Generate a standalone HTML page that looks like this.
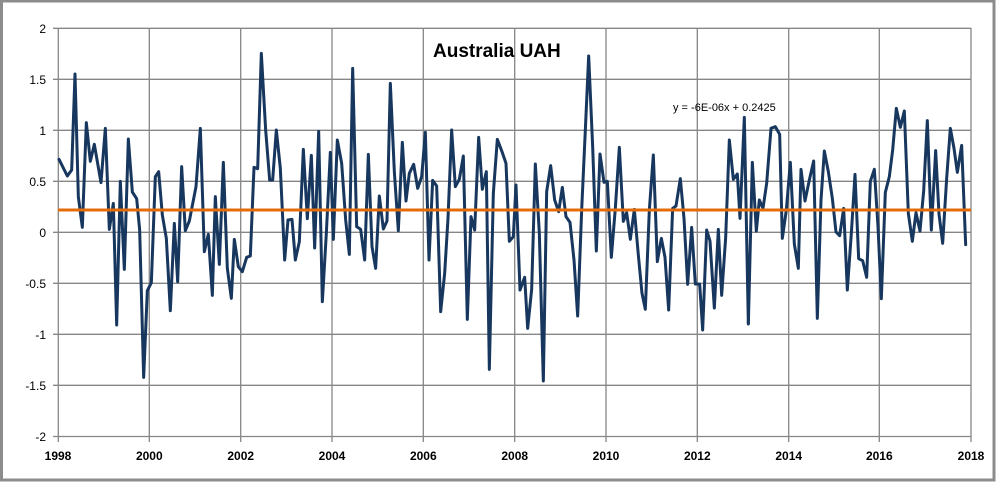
<!DOCTYPE html>
<html><head><meta charset="utf-8"><style>
html,body{margin:0;padding:0;background:#fff}
svg{display:block}
text{font-family:"Liberation Sans",sans-serif}
</style></head><body>
<svg width="996" height="482" viewBox="0 0 996 482" xmlns="http://www.w3.org/2000/svg">
<rect x="0" y="0" width="996" height="482" fill="#fff"/>
<rect x="1.5" y="1" width="992.5" height="479" fill="none" stroke="#8c8c8c" stroke-width="3"/>
<g stroke="#868686" stroke-width="1.3" fill="none">
<path d="M53 28.3H971M53 79.3H971M53 130.3H971M53 181.3H971M53 232.3H971M53 283.3H971M53 334.3H971M53 385.3H971M53 436.5H971"/>
<path d="M58.3 28V442M149.3 28V442M240.7 28V442M332 28V442M423.3 28V442M514.7 28V442M606 28V442M697.3 28V442M788.7 28V442M879.3 28V442M971 28V442"/>
</g>
<g font-size="12" fill="#000" text-anchor="end">
<text x="46" y="33">2</text><text x="46" y="84">1.5</text><text x="46" y="135">1</text><text x="46" y="186">0.5</text><text x="46" y="237">0</text><text x="46" y="288">-0.5</text><text x="46" y="339">-1</text><text x="46" y="390">-1.5</text><text x="46" y="441">-2</text>
</g>
<g font-size="12" font-weight="bold" fill="#000" text-anchor="middle">
<text x="58" y="460">1998</text><text x="149.3" y="460">2000</text><text x="240.7" y="460">2002</text><text x="332" y="460">2004</text><text x="423.3" y="460">2006</text><text x="514.7" y="460">2008</text><text x="606" y="460">2010</text><text x="697.3" y="460">2012</text><text x="788.7" y="460">2014</text><text x="879.3" y="460">2016</text><text x="971" y="460">2018</text>
</g>
<g fill="none" stroke="#17375e" stroke-width="3" stroke-linejoin="round" stroke-linecap="round">
<polyline vector-effect="non-scaling-stroke" transform="translate(50,20) scale(0.33333)" points="27,418 52,468 65,450 75,162 85,530 97,622 109,308 121,424 133,373 153,488 166,325 178,628 190,550 200,915 211,484 223,748 235,357 247,516 260,536 269,630 281,1072 292,812 304,788 316,470 326,455 337,585 349,655 361,872 373,610 383,785 395,440 406,632 418,603 438,500 451,325 463,695 475,643 487,826 496,530 508,733 520,427 532,745 544,835 553,658 565,740 577,755 590,712 601,708 612,442 623,446 634,100 647,330 659,480 668,480 679,330 691,445 704,720 714,600"/>
<polyline vector-effect="non-scaling-stroke" transform="translate(280,20) scale(0.33333)" points="24,600 36,598 46,720 58,665 70,388 82,596 94,406 104,684 116,334 127,845 139,640 151,397 160,658 172,360 185,430 197,600 208,703 218,145 230,620 242,628 254,720 265,403 276,680 287,745 298,528 310,627 321,603 331,190 343,455 355,632 367,367 378,543 388,460 401,433 413,505 425,470 436,337 447,720 458,481 470,498 482,875 494,760 504,595 515,330 526,500 538,478 550,408 562,898 573,590 584,630 596,352 607,508 619,455 628,1048 640,520 652,358 666,395 678,430 688,664 700,650 708,495 720,810"/>
<polyline vector-effect="non-scaling-stroke" transform="translate(510,20) scale(0.33333)" points="30,810 44,772 53,925 65,808 76,432 88,640 100,1083 110,515 122,437 134,540 146,575 157,502 168,590 180,607 192,720 203,888 215,570 226,330 236,108 248,380 259,693 270,402 282,487 292,484 304,712 316,565 328,382 340,604 350,578 361,658 373,568 385,705 396,820 406,868 418,570 430,405 442,725 454,655 465,712 476,870 488,565 498,558 511,476 522,595 533,793 545,622 556,792 569,792 578,930 590,630 600,663 613,864 625,628 635,826 647,653 658,360 670,478 682,462 690,595 703,292 715,910"/>
<polyline vector-effect="non-scaling-stroke" transform="translate(740,20) scale(0.33333)" points="25,912 37,427 49,633 58,540 69,565 80,490 93,325 106,320 119,343 127,655 139,570 151,427 163,672 175,745 183,448 195,543 208,480 221,423 232,895 243,540 253,393 265,455 277,535 288,636 299,647 311,565 322,810 334,640 345,463 356,716 368,722 380,772 391,484 403,448 414,620 424,836 436,517 448,470 458,390 469,265 481,322 493,273 505,580 517,664 528,578 540,633 551,513 562,302 574,630 587,392 597,582 608,670 620,475 631,325 642,385 652,457 665,376 677,674"/>
</g>
<line x1="58" y1="210" x2="971" y2="210" stroke="#e36c09" stroke-width="3"/>
<text x="433" y="57" font-size="19" font-weight="bold" fill="#000">Australia UAH</text>
<text x="673" y="111" font-size="11" fill="#000">y = -6E-06x + 0.2425</text>
</svg>
</body></html>
